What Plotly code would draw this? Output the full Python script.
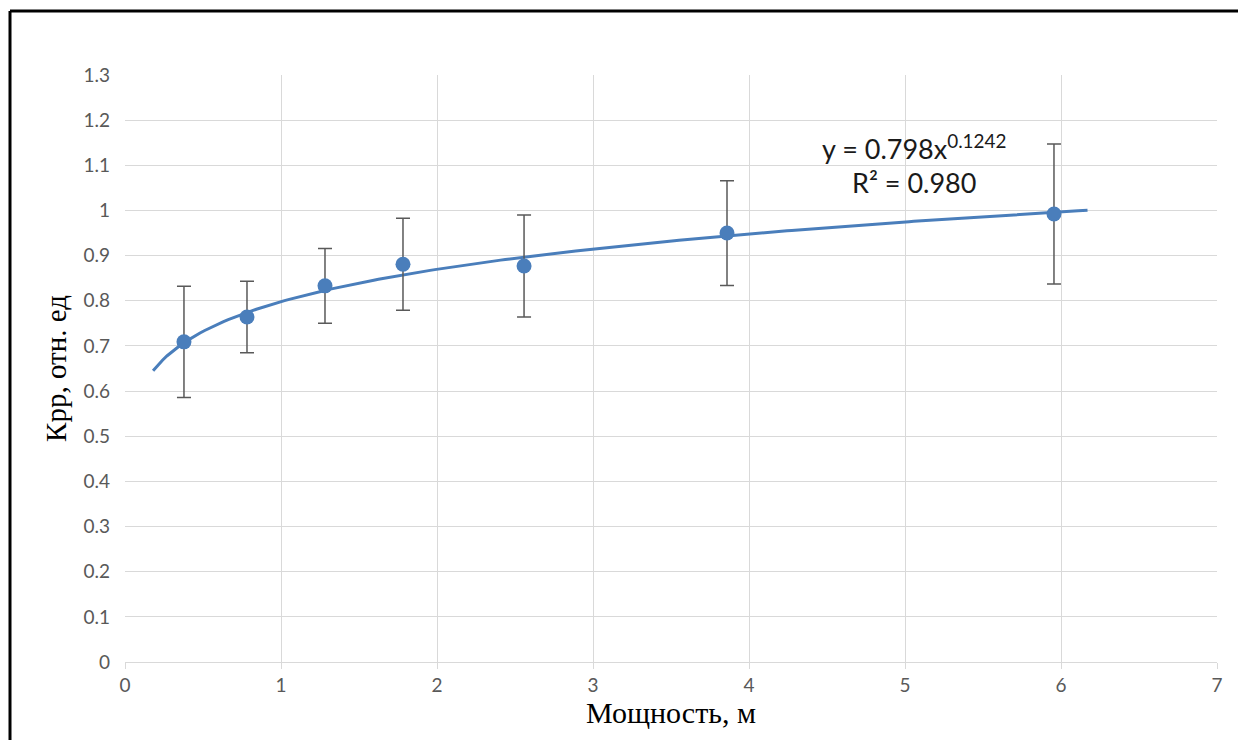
import numpy as np
import plotly.graph_objects as go

# Data
thickness = [0.378, 0.782, 1.282, 1.782, 2.558, 3.859, 5.955]
krr = [0.709, 0.764, 0.833, 0.881, 0.877, 0.950, 0.992]
err = [0.123, 0.079, 0.083, 0.102, 0.113, 0.116, 0.155]

# Power trendline as printed on the chart
trend_a = 0.798
trend_b = 0.1242
trend_x_start = 0.18
trend_x_end = 6.17

x_ticks = [0, 1, 2, 3, 4, 5, 6, 7]
y_ticks = [0, 0.1, 0.2, 0.3, 0.4, 0.5, 0.6, 0.7, 0.8, 0.9, 1, 1.1, 1.2, 1.3]

blue = "#4a7ebb"
tick_font = dict(family="Lato, Open Sans, sans-serif", size=19, color="#595959")
serif = "Liberation Serif, Times New Roman, serif"

tx = np.linspace(trend_x_start, trend_x_end, 200)
ty = trend_a * tx ** trend_b

# page body has an 8px margin: size the figure so the plot lands where the reference has it
W, H = 1238, 732
L, T, R, B = 117, 67, 29, 78
pw, ph = W - L - R, H - T - B

fig = go.Figure()
fig.add_trace(go.Scatter(x=tx, y=ty, mode="lines",
                         line=dict(color=blue, width=3), hoverinfo="skip",
                         showlegend=False))
fig.add_trace(go.Scatter(x=thickness, y=krr, mode="markers",
                         marker=dict(color=blue, size=15),
                         error_y=dict(type="data", array=err, visible=True,
                                      color="#595959", thickness=1.5, width=7),
                         showlegend=False))

fig.update_layout(
    width=W, height=H,
    margin=dict(l=L, r=R, t=T, b=B),
    paper_bgcolor="white", plot_bgcolor="white",
    xaxis=dict(range=[0, 7], tickvals=x_ticks, ticktext=[str(v) for v in x_ticks],
               showgrid=True, gridcolor="#d9d9d9", gridwidth=1,
               zeroline=False, showline=True, linecolor="#d9d9d9", linewidth=1,
               ticks="outside", ticklen=6, tickcolor="#d9d9d9",
               tickfont=tick_font,
               title=dict(text="Мощность, м", standoff=2,
                          font=dict(family=serif, size=30, color="black"))),
    yaxis=dict(range=[0, 1.3], tickvals=y_ticks,
               ticktext=[("%g" % v) for v in y_ticks],
               showgrid=True, gridcolor="#d9d9d9", gridwidth=1,
               zeroline=False, showline=False, ticks="", ticklabelstandoff=14,
               tickfont=tick_font,
               title=dict(text="Крр, отн. ед", standoff=8,
                          font=dict(family=serif, size=29, color="black"))),
    annotations=[
        dict(x=5.06, y=1.14, xref="x", yref="y", showarrow=False,
             text="y = 0.798x<sup>0.1242</sup>",
             font=dict(family="Lato, Open Sans, sans-serif", size=27, color="#1a1a1a")),
        dict(x=5.06, y=1.062, xref="x", yref="y", showarrow=False,
             text="R² = 0.980",
             font=dict(family="Lato, Open Sans, sans-serif", size=27, color="#1a1a1a")),
    ],
    shapes=[
        dict(type="line", xref="paper", yref="paper",
             x0=(2 - L) / pw, x1=(W + 20 - L) / pw,
             y0=(T + ph - 3) / ph, y1=(T + ph - 3) / ph,
             line=dict(color="black", width=3)),
        dict(type="line", xref="paper", yref="paper",
             x0=(2 - L) / pw, x1=(2 - L) / pw,
             y0=(T + ph - 3) / ph, y1=-(B + 20) / ph,
             line=dict(color="black", width=3)),
    ],
)

fig.write_html("out.html")
